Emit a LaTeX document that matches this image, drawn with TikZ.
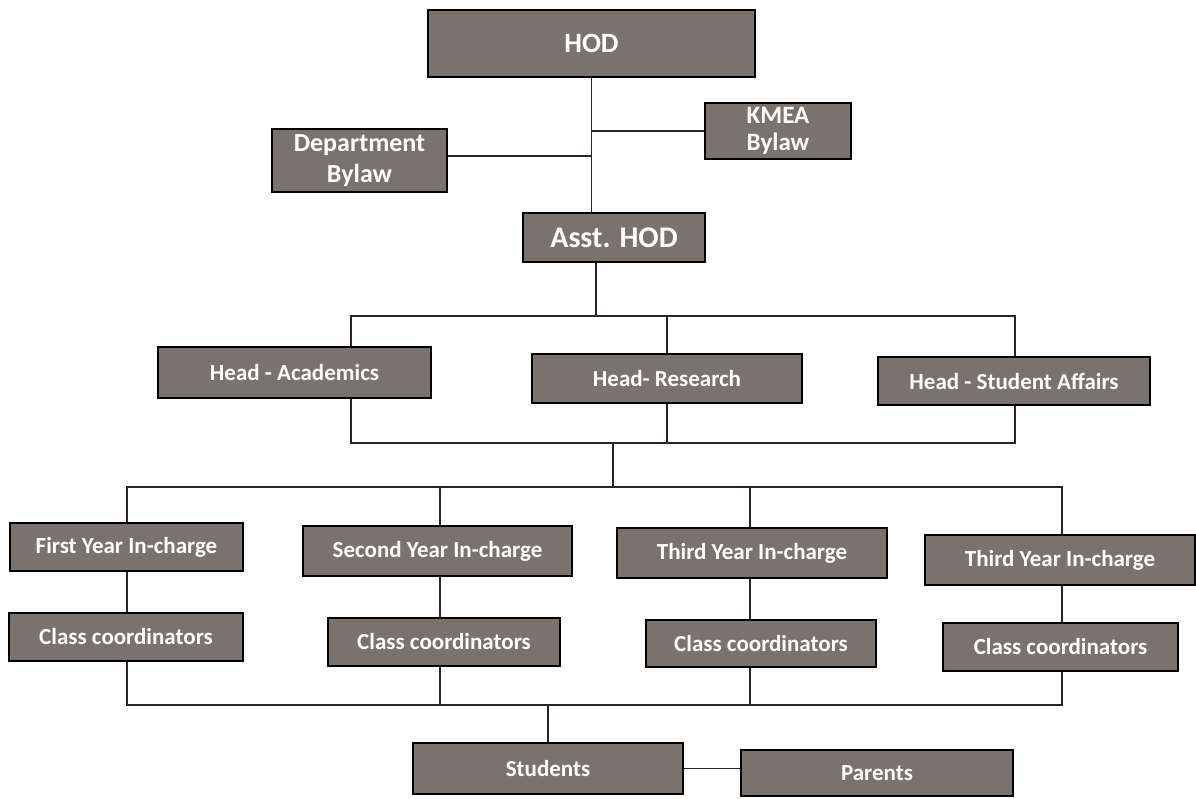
\documentclass[tikz,border=0pt]{standalone}
\usepackage{fontspec}
\setmainfont{Carlito}
\definecolor{boxgray}{RGB}{120,115,111}
\definecolor{linedark}{RGB}{45,35,35}

\tikzset{unitbox/.style={
    	draw=black, line width=1.6pt, fill=boxgray, text=white,
    	inner sep=0pt, align=center, font=\bfseries\fontsize{23}{28}\selectfont
  	},
  	link/.style={linedark, line width=1.2pt}
}

\begin{document}
\begin{tikzpicture}[x=1pt, y=-1pt]
		\useasboundingbox (0,0) rectangle (1196,798);
		% top part
		\node [unitbox, minimum width=327, minimum height=67, font=\bfseries\fontsize{28}{30}\selectfont] (hod) at (591.5,43.5) {HOD};
		\node [unitbox, minimum width=146, minimum height=56, font=\bfseries\fontsize{25}{27}\selectfont] (kmea) at (778,131) {KMEA\\Bylaw};
		\node [unitbox, minimum width=175, minimum height=63, font=\bfseries\fontsize{26}{31}\selectfont] (deptlaw) at (359.5,160.5) {Department\\Bylaw};
		\node [unitbox, minimum width=182, minimum height=49, font=\bfseries\fontsize{30}{32}\selectfont] (asst) at (614,237.5) {Asst. HOD};
		% heads
		\node [unitbox, minimum width=273, minimum height=51] (headacad) at (294.5,372.5) {Head - Academics};
		\node [unitbox, minimum width=270, minimum height=49] (headres) at (667,378.5) {Head- Research};
		\node [unitbox, minimum width=272, minimum height=48] (headsa) at (1014,381) {Head - Student Affairs};
		% year in-charges
		\node [unitbox, minimum width=233, minimum height=48] (first) at (126.5,547) {First Year In-charge};
		\node [unitbox, minimum width=269, minimum height=50] (second) at (437.5,551) {Second Year In-charge};
		\node [unitbox, minimum width=270, minimum height=50] (third) at (752,553) {Third Year In-charge};
		\node [unitbox, minimum width=270, minimum height=50] (fourth) at (1060,560) {Third Year In-charge};
		% class coordinators
		\node [unitbox, minimum width=234, minimum height=48] (cc1) at (126,637) {Class coordinators};
		\node [unitbox, minimum width=232, minimum height=48] (cc2) at (444,642) {Class coordinators};
		\node [unitbox, minimum width=230, minimum height=47] (cc3) at (761,643.5) {Class coordinators};
		\node [unitbox, minimum width=235, minimum height=48] (cc4) at (1060.5,647) {Class coordinators};
		% bottom
		\node [unitbox, minimum width=270, minimum height=51] (students) at (548,768.5) {Students};
		\node [unitbox, minimum width=272, minimum height=46] (parents) at (877,773) {Parents};

		% joints
		\coordinate (a1) at (596,316);
		\coordinate (b1) at (351,316);
		\coordinate (b3) at (1015,316);
		\coordinate (c1) at (351,443);
		\coordinate (c2) at (613,443);
		\coordinate (c3) at (1015,443);
		\coordinate (d2) at (613,487);
		\coordinate (e2) at (548,705);

		\draw [link] (hod.south) -- (hod.south |- asst.north);
		\draw [link] (kmea.west) -- (kmea.west -| hod.south);
		\draw [link] ([yshift=4.5]deptlaw.east) -- ([yshift=4.5]deptlaw.east -| hod.south);
		\draw [link] (asst.south -| a1) -- (a1);
		\draw [link] (b1 |- headacad.north) -- (b1) -- (b3) -- (b3 |- headsa.north);
		\draw [link] (headres.north) -- (headres.north |- b1);
		\draw [link] (b1 |- headacad.south) -- (c1) -- (c3) -- (c3 |- headsa.south);
		\draw [link] (headres.south) -- (headres.south |- c1);
		\draw [link] (c2) -- (d2);
		\draw [link] (first.north -| 127,0) |- (d2) -| (fourth.north -| 1062,0);
		\draw [link] (second.north -| 440,0) -- (440,487);
		\draw [link] (third.north -| 750,0) -- (750,487);
		\foreach \col/\yr/\cc in {127/first/cc1, 440/second/cc2, 750/third/cc3, 1062/fourth/cc4}
			\draw [link] (\yr.south -| \col,0) -- (\cc.north -| \col,0);
		\draw [link] (cc1.south -| 127,0) |- (e2) -| (cc4.south -| 1062,0);
		\draw [link] (cc2.south -| 440,0) -- (440,705);
		\draw [link] (cc3.south -| 750,0) -- (750,705);
		\draw [link] (e2) -- (students.north);
		\draw [link] (students.east) -- (students.east -| parents.west);
	\end{tikzpicture}
\end{document}
